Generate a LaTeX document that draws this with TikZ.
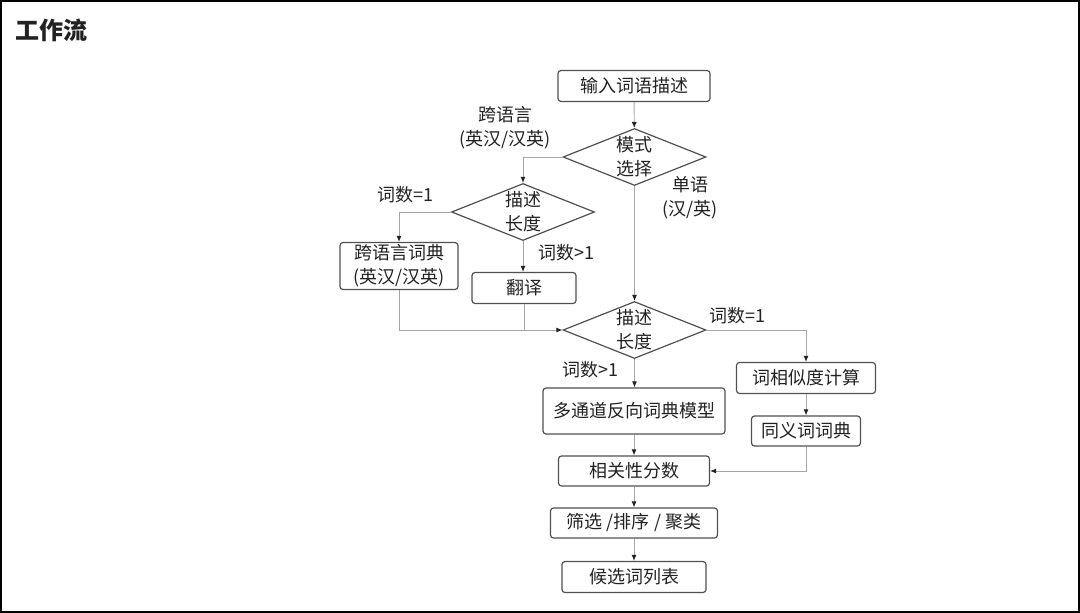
\documentclass[tikz,border=0pt]{standalone}
\usepackage{fontspec}
\setmainfont{Noto Sans CJK SC}
\usetikzlibrary{arrows.meta, shapes.geometric, positioning}

\definecolor{linegray}{HTML}{A6A6A6}
\definecolor{boxgray}{HTML}{505050}
\definecolor{textgray}{HTML}{222222}

\begin{document}
\begin{tikzpicture}[
            x=1pt, y=-1pt,
            every node/.style={text=textgray, font=\fontsize{18}{24}\selectfont},
            stepbox/.style={draw=boxgray, line width=1.2pt, rounded corners=3pt,
                align=center, inner sep=0pt},
            decision/.style={draw=boxgray, line width=1.2pt, diamond, aspect=2.5,
                align=center, inner sep=0pt, minimum width=143pt, minimum height=57pt},
            tag/.style={align=center, inner sep=0pt},
            link/.style={draw=linegray, line width=0.9pt},
            flow/.style={link, -{Latex[length=6pt, width=5pt, color=textgray]}}
        ]
        \useasboundingbox (0, 0) rectangle (1080, 613);
        \draw[black, line width=2pt] (1, 1) rectangle (1079, 612);
        \node[anchor=west, font=\fontsize{24}{28}\selectfont\bfseries] (title) at (12, 30) {工作流};

        % main column
        \node[stepbox, minimum width=152pt, minimum height=31pt] (input) at (634, 86) {输入词语描述};
        \node[decision] (mode) at (634.5, 157) {模式\\选择};
        \node[decision] (lenB) at (634.5, 330) {描述\\长度};
        \node[stepbox, minimum width=182pt, minimum height=46pt] (model) at (634, 411) {多通道反向词典模型};
        \node[stepbox, minimum width=151pt, minimum height=30pt] (score) at (634, 471) {相关性分数};
        \node[stepbox, minimum width=167pt, minimum height=30pt] (filter) at (634, 523) {筛选 /排序 / 聚类};
        \node[stepbox, minimum width=144pt, minimum height=31pt] (cand) at (634, 577) {候选词列表};

        % cross-lingual branch
        \node[decision] (lenA) at (523, 212) {描述\\长度};
        \node[stepbox, minimum width=118pt, minimum height=47pt] (xdict) at (399, 266) {跨语言词典\\(英汉/汉英)};
        \node[stepbox, minimum width=104pt, minimum height=31pt] (trans) at (524, 288) {翻译};

        % single-word branch
        \node[stepbox, minimum width=139pt, minimum height=31pt] (sim) at (806, 378) {词相似度计算};
        \node[stepbox, minimum width=109pt, minimum height=30pt] (syn) at (806, 431) {同义词词典};

        % labels
        \node[tag] (crossTag) at (505, 128) {跨语言\\(英汉/汉英)};
        \node[tag] (monoTag) at (690, 198) {单语\\(汉/英)};
        \node[tag] (oneA) at (405, 195) {词数=1};
        \node[tag] (manyA) at (566, 253) {词数>1};
        \node[tag] (oneB) at (737, 316) {词数=1};
        \node[tag] (manyB) at (590, 370) {词数>1};

        % connectors
        \draw[flow] (input) -- (mode);
        \draw[flow] (mode.west) -| (lenA.north);
        \draw[flow] (lenA.west) -| (xdict.north);
        \draw[flow] (lenA.south) -- (lenA.south |- trans.north);
        \draw[flow] (mode.south) -- (lenB.north);
        \draw[flow] (xdict.south) |- (lenB.west);
        \draw[link] (trans.south) -- (trans.south |- lenB.west);
        \draw[flow] (lenB.east) -| (sim.north);
        \draw[flow] (lenB.south) -- (lenB.south |- model.north);
        \draw[flow] (sim) -- (syn);
        \draw[flow] (syn.south) |- (score.east);
        \draw[flow] (model) -- (score);
        \draw[flow] (score) -- (filter);
        \draw[flow] (filter) -- (cand);
    \end{tikzpicture}
\end{document}
